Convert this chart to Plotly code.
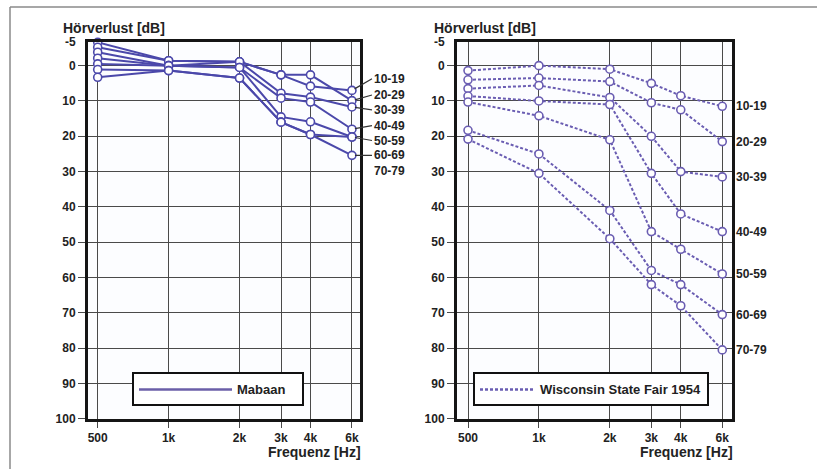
import math
import plotly.graph_objects as go

# ---------------- data ----------------
freqs = [500, 1000, 2000, 3000, 4000, 6000]
freq_labels = ["500", "1k", "2k", "3k", "4k", "6k"]
age_groups = ["10-19", "20-29", "30-39", "40-49", "50-59", "60-69", "70-79"]

# Mabaan (hearing loss in dB)
mabaan_10_19 = [-6.6, -1.4, -1.1, 2.6, 5.8, 7.0]
mabaan_20_29 = [-5.2, -1.4, -1.1, 2.6, 2.6, 9.9]
mabaan_30_39 = [-3.8, 0.0, -1.1, 7.8, 8.9, 11.7]
mabaan_40_49 = [-2.1, 0.0, 0.5, 9.2, 10.3, 18.0]
mabaan_50_59 = [-0.5, 0.0, 0.5, 14.5, 15.9, 20.2]
mabaan_60_69 = [1.1, 1.4, 3.5, 16.0, 19.5, 25.4]
mabaan_70_79 = [3.3, 1.4, 3.5, 16.0, 19.5, 20.2]

# Wisconsin State Fair 1954
wis_10_19 = [1.4, 0.0, 1.0, 5.0, 8.5, 11.5]
wis_20_29 = [4.0, 3.5, 4.5, 10.5, 12.5, 21.5]
wis_30_39 = [6.5, 5.6, 9.0, 20.0, 30.0, 31.5]
wis_40_49 = [8.6, 10.0, 11.0, 30.5, 42.0, 47.0]
wis_50_59 = [10.3, 14.2, 21.0, 47.0, 52.0, 59.0]
wis_60_69 = [18.3, 25.0, 41.0, 58.0, 62.0, 70.5]
wis_70_79 = [20.8, 30.5, 49.0, 62.0, 68.0, 80.5]

y_ticks = [0, 10, 20, 30, 40, 50, 60, 70, 80, 90, 100]

mabaan = [mabaan_10_19, mabaan_20_29, mabaan_30_39, mabaan_40_49,
          mabaan_50_59, mabaan_60_69, mabaan_70_79]
wisconsin = [wis_10_19, wis_20_29, wis_30_39, wis_40_49,
             wis_50_59, wis_60_69, wis_70_79]

# label positions (layout only) for the left panel labels, in dB
left_label_pos = [3.7, 8.3, 12.5, 17.0, 21.2, 25.4, 29.9]

# ---------------- style ----------------
W, H = 817, 476
c_left = "#4b48aa"
c_right = "#6a5db2"
grid_c = "#4a4a4a"
frame_c = "#151515"
font_fam = "Liberation Sans, Arial, sans-serif"
txt_c = "#222222"
tick_font = dict(family=font_fam, size=12, color=txt_c, weight="bold")
lab_font = dict(family=font_fam, size=12, color=txt_c, weight="bold")

fig = go.Figure()

for name, vals in zip(age_groups, mabaan):
    fig.add_trace(go.Scatter(
        x=freqs, y=vals, mode="lines+markers", name="Mabaan " + name,
        line=dict(color=c_left, width=2),
        marker=dict(symbol="circle", size=8, color="white",
                    line=dict(color=c_left, width=1.6)),
        showlegend=False, xaxis="x", yaxis="y", cliponaxis=False))

for name, vals in zip(age_groups, wisconsin):
    fig.add_trace(go.Scatter(
        x=freqs, y=vals, mode="lines+markers", name="Wisconsin " + name,
        line=dict(color=c_right, width=2, dash="3px,2px"),
        marker=dict(symbol="circle", size=8, color="white",
                    line=dict(color=c_right, width=1.6)),
        showlegend=False, xaxis="x2", yaxis="y2", cliponaxis=False))

# legend entries
fig.add_trace(go.Scatter(x=[None], y=[None], mode="lines", name="Mabaan",
                         line=dict(color="#6b5fa8", width=2.5),
                         xaxis="x", yaxis="y", legend="legend"))
fig.add_trace(go.Scatter(x=[None], y=[None], mode="lines",
                         name="Wisconsin State Fair 1954",
                         line=dict(color=c_right, width=2.5, dash="3px,2px"),
                         xaxis="x2", yaxis="y2", legend="legend2"))

y_dom = [1 - 425 / H, 1 - 43 / H]
xl_dom = [88 / W, 360 / W]
xr_dom = [457 / W, 732 / W]

def xaxis(dom, rng, anchor):
    return dict(type="log", range=rng, domain=dom, anchor=anchor,
                tickvals=freqs, ticktext=freq_labels,
                showgrid=True, gridcolor=grid_c, gridwidth=1.4,
                showline=True, mirror=True, linecolor=frame_c, linewidth=3,
                ticks="outside", ticklen=6, tickcolor=grid_c, tickwidth=1.4,
                tickfont=tick_font, zeroline=False, fixedrange=True)

def yaxis(anchor):
    return dict(range=[100, -6.6], domain=y_dom, anchor=anchor,
                tickvals=y_ticks, showgrid=True, gridcolor=grid_c, gridwidth=1.4,
                showline=True, mirror=True, linecolor=frame_c, linewidth=3,
                ticks="outside", ticklen=7, tickcolor=grid_c, tickwidth=1.4,
                tickfont=tick_font, zeroline=False, fixedrange=True)

annotations = []
# age labels, left panel (with leader lines)
for i, (name, vals) in enumerate(zip(age_groups, mabaan)):
    if i < 6:
        annotations.append(dict(
            x=math.log10(freqs[-1]), y=vals[-1], xref="x", yref="y",
            ax=math.log10(freqs[-1]) + 0.085, ay=left_label_pos[i],
            axref="x", ayref="y", text=name, xanchor="left",
            showarrow=True, arrowhead=0, arrowwidth=1.2, arrowcolor="#333333",
            standoff=3, font=lab_font))
    else:
        annotations.append(dict(
            x=math.log10(freqs[-1]), y=left_label_pos[i], xref="x", yref="y",
            xshift=20, text=name, xanchor="left", showarrow=False,
            font=lab_font))
# age labels, right panel
for name, vals in zip(age_groups, wisconsin):
    annotations.append(dict(
        x=math.log10(freqs[-1]), y=vals[-1], xref="x2", yref="y2",
        xshift=12, text=name, xanchor="left", showarrow=False,
        font=lab_font))
# titles
title_font = dict(family=font_fam, size=14, color=txt_c, weight="bold")
for xp, xp2 in [(61 / W, 363 / W), (432 / W, 735 / W)]:
    annotations.append(dict(x=xp, y=1 - 28 / H, xref="paper", yref="paper",
                            text="Hörverlust [dB]", showarrow=False,
                            xanchor="left", yanchor="middle", font=title_font))
    annotations.append(dict(x=xp2, y=1 - 459 / H, xref="paper", yref="paper",
                            text="Frequenz [Hz]", showarrow=False,
                            xanchor="right", yanchor="middle", font=title_font))
# "-5" label at top of each y axis
for xr, yr in [("x", "y"), ("x2", "y2")]:
    annotations.append(dict(x=0, y=1, xref=xr + " domain", yref=yr + " domain",
                            text="-5", showarrow=False, xanchor="right",
                            yanchor="middle", xshift=-10, font=tick_font))

shapes = [
    dict(type="line", xref="paper", yref="paper", x0=10 / W, x1=1,
         y0=1 - 7 / H, y1=1 - 7 / H, line=dict(color="#8a8a8a", width=1.5)),
    dict(type="line", xref="paper", yref="paper", x0=10 / W, x1=10 / W,
         y0=0, y1=1 - 7 / H, line=dict(color="#8a8a8a", width=1.5)),
]

legend_style = dict(bgcolor="white", bordercolor="#111111", borderwidth=2,
                    font=dict(family=font_fam, size=13, color=txt_c, weight="bold"),
                    xanchor="left", yanchor="top", orientation="h",
                    entrywidthmode="pixels")

fig.update_layout(
    width=W, height=H, autosize=False,
    margin=dict(l=0, r=0, t=0, b=0),
    paper_bgcolor="white", plot_bgcolor="#fcfdff",
    xaxis=xaxis(xl_dom, [2.6578, 3.8123], "y"),
    yaxis=yaxis("x"),
    xaxis2=xaxis(xr_dom, [2.6523, 3.8195], "y2"),
    yaxis2=yaxis("x2"),
    legend=dict(x=132 / W, y=1 - 378 / H, entrywidth=60, itemwidth=93,
                **legend_style),
    legend2=dict(x=473 / W, y=1 - 378 / H, itemwidth=55, **legend_style),
    annotations=annotations, shapes=shapes,
    font=dict(family=font_fam),
)

fig.write_html("out.html")
